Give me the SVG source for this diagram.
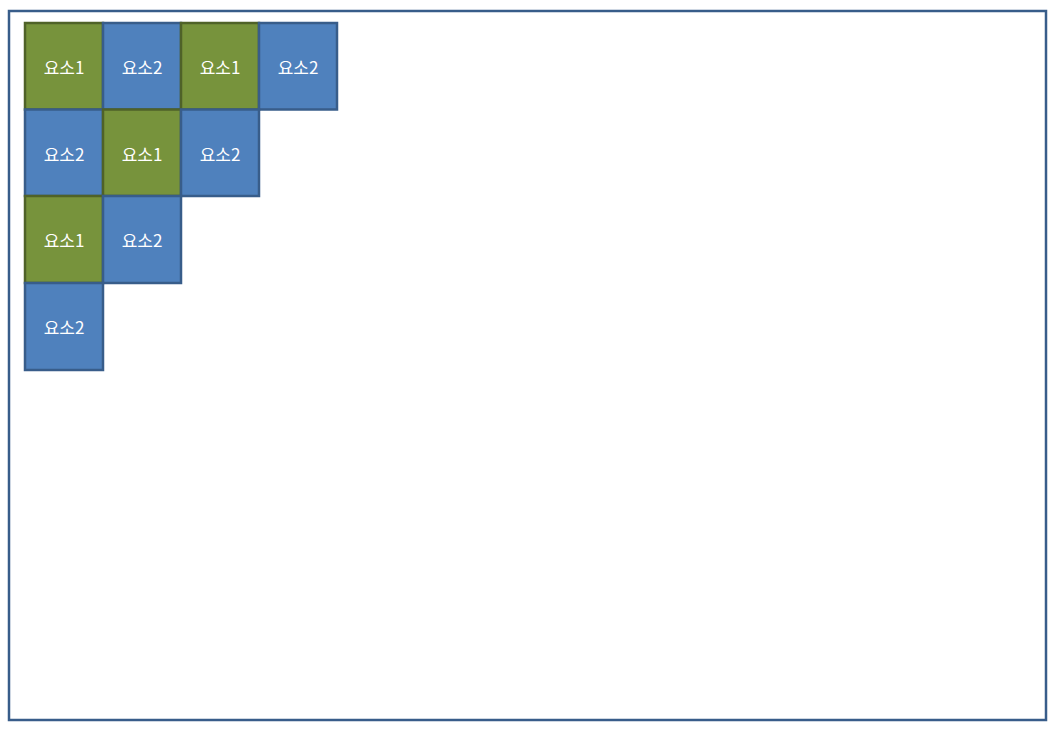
<svg xmlns="http://www.w3.org/2000/svg" width="1057" height="735" viewBox="0 0 1057 735">
<style>
.g rect{fill:#77933C;stroke:#4F6228;stroke-width:2.5}
.b rect{fill:#4F81BD;stroke:#385D8A;stroke-width:2.5}
text{font-family:"Noto Sans CJK KR","Noto Sans",sans-serif;font-size:17px;fill:#FFFFFF;text-anchor:middle;dominant-baseline:central}
</style>
<rect x="9" y="11" width="1037" height="709" fill="#FFFFFF" stroke="#385D8A" stroke-width="2.5"/>
<g id="r1c1" class="g"><rect x="25" y="23" width="78" height="86.5"/><text x="64" y="66">요소1</text></g>
<g id="r1c2" class="b"><rect x="103" y="23" width="78" height="86.5"/><text x="142" y="66">요소2</text></g>
<g id="r1c3" class="g"><rect x="181" y="23" width="78" height="86.5"/><text x="220" y="66">요소1</text></g>
<g id="r1c4" class="b"><rect x="259" y="23" width="78" height="86.5"/><text x="298" y="66">요소2</text></g>
<g id="r2c1" class="b"><rect x="25" y="109.5" width="78" height="86.5"/><text x="64" y="153">요소2</text></g>
<g id="r2c2" class="g"><rect x="103" y="109.5" width="78" height="86.5"/><text x="142" y="153">요소1</text></g>
<g id="r2c3" class="b"><rect x="181" y="109.5" width="78" height="86.5"/><text x="220" y="153">요소2</text></g>
<g id="r3c1" class="g"><rect x="25" y="196" width="78" height="87"/><text x="64" y="239">요소1</text></g>
<g id="r3c2" class="b"><rect x="103" y="196" width="78" height="87"/><text x="142" y="239">요소2</text></g>
<g id="r4c1" class="b"><rect x="25" y="283" width="78" height="87"/><text x="64" y="326">요소2</text></g>
<g id="connectors"></g>
</svg>
